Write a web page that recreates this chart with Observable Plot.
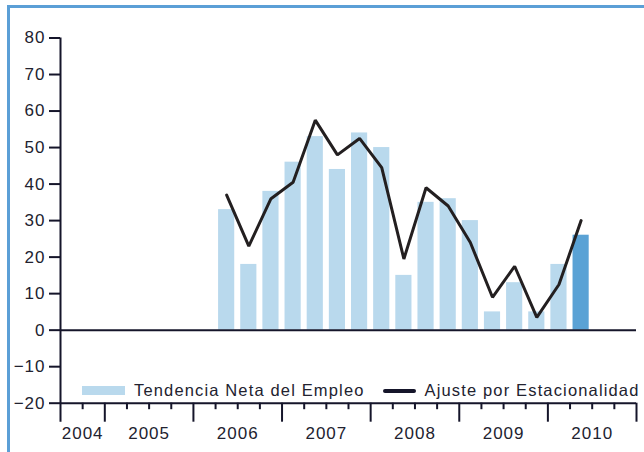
<!DOCTYPE html>
<html>
<head>
<meta charset="utf-8">
<script src="https://cdn.jsdelivr.net/npm/d3@7"></script>
<script src="https://cdn.jsdelivr.net/npm/@observablehq/plot@0.6"></script>
<style>
  body { margin: 0; background: #fff; }
  #wrap { position: relative; width: 644px; height: 452px; overflow: hidden; font-family: "Liberation Sans", Arial, sans-serif; }
  #frame { position: absolute; left: 7px; top: 5px; right: -10px; bottom: -10px; border-top: 3px solid #5b9fd6; border-left: 3px solid #5b9fd6; pointer-events: none; }
  #legend { position: absolute; left: 82px; top: 382px; height: 17px; display: flex; align-items: center; font-size: 16.5px; line-height: 17px; letter-spacing: 1.15px; color: #22222f; white-space: nowrap; }
  .sw-bar { width: 43px; height: 9px; background: #b9d9ed; margin-right: 9px; }
  .sw-line { width: 33px; height: 4px; border-radius: 2px; background: #15152a; margin-left: 18px; margin-right: 9px; }
</style>
</head>
<body>
<div id="wrap">
  <div id="frame"></div>
  <div id="chart"></div>
  <div id="legend">
    <div class="sw-bar"></div><span>Tendencia Neta del Empleo</span>
    <div class="sw-line"></div><span>Ajuste por Estacionalidad</span>
  </div>
</div>
<script>
// ---- data ----
const quarters = ["2006 Q2","2006 Q3","2006 Q4","2007 Q1","2007 Q2","2007 Q3","2007 Q4","2008 Q1","2008 Q2","2008 Q3","2008 Q4","2009 Q1","2009 Q2","2009 Q3","2009 Q4","2010 Q1","2010 Q2"];
const tendencia = [33, 18, 38, 46, 53, 44, 54, 50, 15, 35, 36, 30, 5, 13, 5, 18, 26];
const ajuste = [37, 23, 36, 40.5, 57.5, 48, 52.5, 44.5, 19.5, 39, 34, 24, 9, 17.5, 3.5, 12.5, 30];
const highlightQuarter = "2010 Q2";
const yearLabels = [2004, 2005, 2006, 2007, 2008, 2009, 2010];
const yTicks = [-20, -10, 0, 10, 20, 30, 40, 50, 60, 70, 80];
const xDomain = [2004.5, 2011];
const yDomain = [-20, 80];

// ---- derived ----
const qStart = q => { const [y, n] = q.split(" Q"); return +y + (+n - 1) / 4; };
const data = quarters.map((q, i) => ({
  q, x1: qStart(q), x2: qStart(q) + 0.25, xm: qStart(q) + 0.125,
  tend: tendencia[i], aj: ajuste[i], hi: q === highlightQuarter
}));
const yearBounds = yearLabels.slice(1).concat([yearLabels[yearLabels.length - 1] + 1]);
const quarterTicks = [];
for (let y = xDomain[0]; y < xDomain[1]; y += 0.25) {
  if (y % 1 !== 0 && y !== xDomain[0]) quarterTicks.push(y);
}
const yearMids = yearLabels.map(y => (Math.max(y, xDomain[0]) + y + 1) / 2);

const axisColor = "#15152a";
const textColor = "#22222f";
const fontSize = 17;

const chart = Plot.plot({
  width: 644,
  height: 452,
  marginLeft: 60,
  marginRight: 8,
  marginTop: 37.5,
  marginBottom: 49.3,
  x: { domain: xDomain },
  y: { domain: yDomain },
  style: { fontFamily: "Liberation Sans, Arial, sans-serif", fontSize: fontSize + "px", color: textColor, letterSpacing: "1px", background: "transparent" },
  marks: [
    Plot.rectY(data, { filter: d => !d.hi, x1: "x1", x2: "x2", y: "tend", insetLeft: 3, insetRight: 3, fill: "#b9d9ed" }),
    Plot.rectY(data, { filter: d => d.hi, x1: "x1", x2: "x2", y: "tend", insetLeft: 3, insetRight: 3, fill: "#5aa2d5" }),
    Plot.ruleY([0], { stroke: axisColor, strokeWidth: 2 }),
    Plot.ruleY([yDomain[0]], { stroke: axisColor, strokeWidth: 2 }),
    Plot.line(data, { x: "xm", y: "aj", stroke: "#231f20", strokeWidth: 3, strokeLinejoin: "miter" }),
    Plot.axisY({ ticks: yTicks, tickSize: 11, tickPadding: 4, stroke: axisColor, strokeWidth: 2, fill: textColor, fontSize, label: null }),
    Plot.ruleX([xDomain[0]], { y1: yDomain[1], y2: yDomain[0], stroke: axisColor, strokeWidth: 2, insetBottom: -19 }),
    Plot.axisX({ ticks: yearBounds, tickSize: 19, tickFormat: () => "", stroke: axisColor, strokeWidth: 2, label: null }),
    Plot.axisX({ ticks: quarterTicks, tickSize: 6.5, tickFormat: () => "", stroke: axisColor, strokeWidth: 2, label: null }),
    Plot.axisX({ ticks: yearMids, tickSize: 0, tickPadding: 23.5, tickFormat: d => String(Math.floor(d)), fill: textColor, fontSize, label: null })
  ]
});
document.getElementById("chart").appendChild(chart);
</script>
</body>
</html>
